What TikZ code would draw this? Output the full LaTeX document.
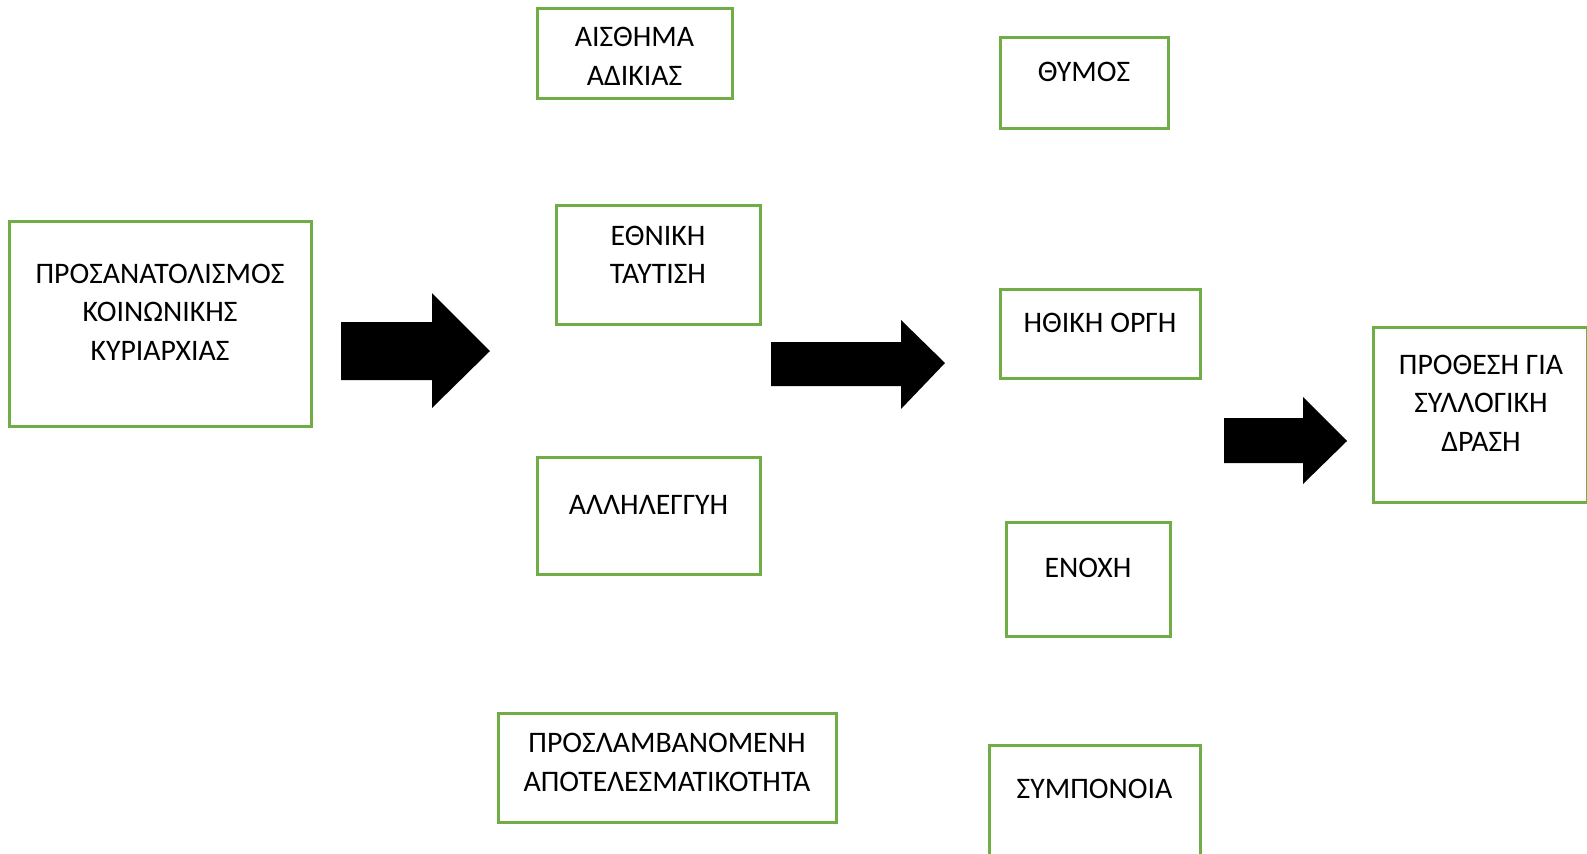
\documentclass[tikz,border=0pt]{standalone}
\usepackage{fontspec}
\setmainfont{Carlito}
\usepackage{tikz}

\definecolor{boxgreen}{HTML}{70AD47}

\tikzset{
  box/.style={draw=boxgreen, line width=1.5pt, rectangle, inner sep=0pt},
  txt/.style={anchor=base, inner sep=0pt, align=center, font=\fontsize{14.9pt}{19.25pt}\selectfont},
  blockarrow/.style={fill=black, draw=none}
}

\begin{document}
\begin{tikzpicture}[x=0.5pt,y=0.5pt,yscale=-1,xscale=1]
    \useasboundingbox (0,0) rectangle (1587,853);

    % Boxes
    \node [box, minimum width=151pt, minimum height=102.5pt] (domin) at (160,323.5) {};
    \node [box, minimum width=97.5pt, minimum height=45pt] (adikia) at (634.5,53) {};
    \node [box, minimum width=102pt, minimum height=59.5pt] (tautisi) at (658,264.5) {};
    \node [box, minimum width=111.5pt, minimum height=58.5pt] (allileggyi) at (648.5,515.5) {};
    \node [box, minimum width=169pt, minimum height=54.5pt] (apotel) at (667,767.5) {};
    \node [box, minimum width=84pt, minimum height=45.5pt] (thymos) at (1084,82.5) {};
    \node [box, minimum width=100pt, minimum height=44.5pt] (orgi) at (1100,333.5) {};
    \node [box, minimum width=82pt, minimum height=57pt] (enochi) at (1088,579) {};
    \node [box, minimum width=105.5pt, minimum height=62.5pt] (sympnoia) at (1094.5,807.5) {};
    \node [box, minimum width=107pt, minimum height=87.5pt] (prothesi) at (1480,414.5) {};

    % Text Node (placed at the baseline of the last line)
    \node [txt] (domin text) at (160,360) {ΠΡΟΣΑΝΑΤΟΛΙΣΜΟΣ\\ΚΟΙΝΩΝΙΚΗΣ\\ΚΥΡΙΑΡΧΙΑΣ};
    % Text Node
    \node [txt] (adikia text) at (634.5,85) {ΑΙΣΘΗΜΑ\\ΑΔΙΚΙΑΣ};
    % Text Node
    \node [txt] (tautisi text) at (658,283.5) {ΕΘΝΙΚΗ\\ΤΑΥΤΙΣΗ};
    % Text Node
    \node [txt] (allileggyi text) at (648.5,514) {ΑΛΛΗΛΕΓΓΥΗ};
    % Text Node
    \node [txt] (apotel text) at (667,791) {ΠΡΟΣΛΑΜΒΑΝΟΜΕΝΗ\\ΑΠΟΤΕΛΕΣΜΑΤΙΚΟΤΗΤΑ};
    % Text Node
    \node [txt] (thymos text) at (1084,81) {ΘΥΜΟΣ};
    % Text Node
    \node [txt] (orgi text) at (1100,332) {ΗΘΙΚΗ ΟΡΓΗ};
    % Text Node
    \node [txt] (enochi text) at (1088,577) {ΕΝΟΧΗ};
    % Text Node
    \node [txt] (sympnoia text) at (1094.5,798) {ΣΥΜΠΟΝΟΙΑ};
    % Text Node
    \node [txt] (prothesi text) at (1481,451) {ΠΡΟΘΕΣΗ ΓΙΑ\\ΣΥΛΛΟΓΙΚΗ\\ΔΡΑΣΗ};

    % Block arrows
    \fill [blockarrow] (341,322) -- (432,322) -- (432,293) -- (490,351) -- (432,408) -- (432,380) -- (341,380) -- cycle;
    \fill [blockarrow] (771,342) -- (901,342) -- (901,320) -- (945,363) -- (901,409) -- (901,386) -- (771,386) -- cycle;
    \fill [blockarrow] (1224,418) -- (1303,418) -- (1303,397) -- (1347,441) -- (1303,484) -- (1303,463) -- (1224,463) -- cycle;

\end{tikzpicture}
\end{document}
